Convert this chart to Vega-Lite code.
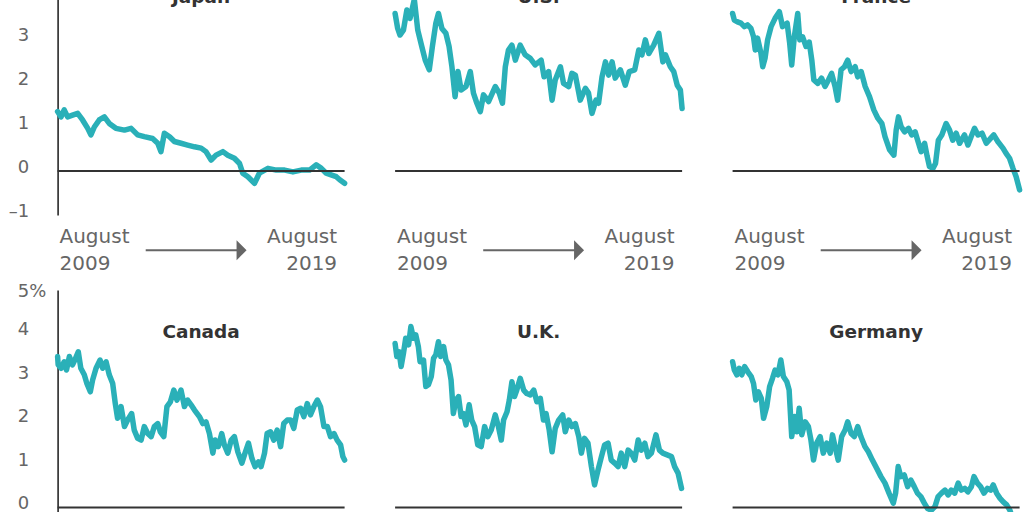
{
  "$schema": "https://vega.github.io/schema/vega-lite/v6.json",
  "description": "10-year government bond yields, August 2009 to August 2019, small multiples",
  "padding": {"left": 7.6, "top": -49, "right": 0, "bottom": 0},
  "background": "white",
  "config": {"view": {"stroke": null}},
  "data": {
    "values": [
      {"country": "Japan", "year": 2009.60, "yield": 1.35},
      {"country": "Japan", "year": 2009.72, "yield": 1.23},
      {"country": "Japan", "year": 2009.83, "yield": 1.39},
      {"country": "Japan", "year": 2009.95, "yield": 1.23},
      {"country": "Japan", "year": 2010.12, "yield": 1.27},
      {"country": "Japan", "year": 2010.30, "yield": 1.31},
      {"country": "Japan", "year": 2010.47, "yield": 1.16},
      {"country": "Japan", "year": 2010.65, "yield": 0.97},
      {"country": "Japan", "year": 2010.76, "yield": 0.82},
      {"country": "Japan", "year": 2010.88, "yield": 1.00},
      {"country": "Japan", "year": 2011.05, "yield": 1.16},
      {"country": "Japan", "year": 2011.23, "yield": 1.23},
      {"country": "Japan", "year": 2011.40, "yield": 1.08},
      {"country": "Japan", "year": 2011.63, "yield": 0.97},
      {"country": "Japan", "year": 2011.93, "yield": 0.93},
      {"country": "Japan", "year": 2012.16, "yield": 0.97},
      {"country": "Japan", "year": 2012.39, "yield": 0.82},
      {"country": "Japan", "year": 2012.62, "yield": 0.78},
      {"country": "Japan", "year": 2012.91, "yield": 0.74},
      {"country": "Japan", "year": 2013.09, "yield": 0.63},
      {"country": "Japan", "year": 2013.20, "yield": 0.44},
      {"country": "Japan", "year": 2013.32, "yield": 0.86},
      {"country": "Japan", "year": 2013.50, "yield": 0.78},
      {"country": "Japan", "year": 2013.67, "yield": 0.67},
      {"country": "Japan", "year": 2013.90, "yield": 0.63},
      {"country": "Japan", "year": 2014.13, "yield": 0.59},
      {"country": "Japan", "year": 2014.37, "yield": 0.55},
      {"country": "Japan", "year": 2014.60, "yield": 0.52},
      {"country": "Japan", "year": 2014.77, "yield": 0.44},
      {"country": "Japan", "year": 2014.95, "yield": 0.25},
      {"country": "Japan", "year": 2015.12, "yield": 0.36},
      {"country": "Japan", "year": 2015.36, "yield": 0.44},
      {"country": "Japan", "year": 2015.53, "yield": 0.36},
      {"country": "Japan", "year": 2015.76, "yield": 0.29},
      {"country": "Japan", "year": 2015.94, "yield": 0.17},
      {"country": "Japan", "year": 2016.05, "yield": -0.05},
      {"country": "Japan", "year": 2016.23, "yield": -0.13},
      {"country": "Japan", "year": 2016.46, "yield": -0.28},
      {"country": "Japan", "year": 2016.63, "yield": -0.05},
      {"country": "Japan", "year": 2016.93, "yield": 0.06},
      {"country": "Japan", "year": 2017.22, "yield": 0.02},
      {"country": "Japan", "year": 2017.51, "yield": 0.02},
      {"country": "Japan", "year": 2017.80, "yield": -0.02},
      {"country": "Japan", "year": 2018.09, "yield": 0.02},
      {"country": "Japan", "year": 2018.38, "yield": 0.02},
      {"country": "Japan", "year": 2018.61, "yield": 0.14},
      {"country": "Japan", "year": 2018.79, "yield": 0.06},
      {"country": "Japan", "year": 2018.96, "yield": -0.05},
      {"country": "Japan", "year": 2019.13, "yield": -0.09},
      {"country": "Japan", "year": 2019.31, "yield": -0.13},
      {"country": "Japan", "year": 2019.43, "yield": -0.20},
      {"country": "Japan", "year": 2019.60, "yield": -0.28},

      {"country": "U.S.", "year": 2009.60, "yield": 3.58},
      {"country": "U.S.", "year": 2009.69, "yield": 3.24},
      {"country": "U.S.", "year": 2009.77, "yield": 3.09},
      {"country": "U.S.", "year": 2009.89, "yield": 3.20},
      {"country": "U.S.", "year": 2010.01, "yield": 3.66},
      {"country": "U.S.", "year": 2010.12, "yield": 3.47},
      {"country": "U.S.", "year": 2010.27, "yield": 3.90},
      {"country": "U.S.", "year": 2010.39, "yield": 3.20},
      {"country": "U.S.", "year": 2010.53, "yield": 2.83},
      {"country": "U.S.", "year": 2010.65, "yield": 2.52},
      {"country": "U.S.", "year": 2010.79, "yield": 2.30},
      {"country": "U.S.", "year": 2010.90, "yield": 2.83},
      {"country": "U.S.", "year": 2011.02, "yield": 3.36},
      {"country": "U.S.", "year": 2011.11, "yield": 3.58},
      {"country": "U.S.", "year": 2011.23, "yield": 3.24},
      {"country": "U.S.", "year": 2011.37, "yield": 3.13},
      {"country": "U.S.", "year": 2011.48, "yield": 2.83},
      {"country": "U.S.", "year": 2011.58, "yield": 2.37},
      {"country": "U.S.", "year": 2011.69, "yield": 1.69},
      {"country": "U.S.", "year": 2011.79, "yield": 2.26},
      {"country": "U.S.", "year": 2011.90, "yield": 1.84},
      {"country": "U.S.", "year": 2012.07, "yield": 1.92},
      {"country": "U.S.", "year": 2012.22, "yield": 2.26},
      {"country": "U.S.", "year": 2012.33, "yield": 1.77},
      {"country": "U.S.", "year": 2012.45, "yield": 1.54},
      {"country": "U.S.", "year": 2012.57, "yield": 1.35},
      {"country": "U.S.", "year": 2012.68, "yield": 1.73},
      {"country": "U.S.", "year": 2012.86, "yield": 1.58},
      {"country": "U.S.", "year": 2013.09, "yield": 1.92},
      {"country": "U.S.", "year": 2013.23, "yield": 1.77},
      {"country": "U.S.", "year": 2013.34, "yield": 1.54},
      {"country": "U.S.", "year": 2013.44, "yield": 2.37},
      {"country": "U.S.", "year": 2013.55, "yield": 2.75},
      {"country": "U.S.", "year": 2013.67, "yield": 2.86},
      {"country": "U.S.", "year": 2013.79, "yield": 2.52},
      {"country": "U.S.", "year": 2013.96, "yield": 2.86},
      {"country": "U.S.", "year": 2014.13, "yield": 2.64},
      {"country": "U.S.", "year": 2014.31, "yield": 2.56},
      {"country": "U.S.", "year": 2014.48, "yield": 2.41},
      {"country": "U.S.", "year": 2014.69, "yield": 2.52},
      {"country": "U.S.", "year": 2014.79, "yield": 2.14},
      {"country": "U.S.", "year": 2014.95, "yield": 2.26},
      {"country": "U.S.", "year": 2015.07, "yield": 1.61},
      {"country": "U.S.", "year": 2015.18, "yield": 2.07},
      {"country": "U.S.", "year": 2015.36, "yield": 2.37},
      {"country": "U.S.", "year": 2015.47, "yield": 1.99},
      {"country": "U.S.", "year": 2015.65, "yield": 1.92},
      {"country": "U.S.", "year": 2015.76, "yield": 2.22},
      {"country": "U.S.", "year": 2015.88, "yield": 2.18},
      {"country": "U.S.", "year": 2016.05, "yield": 1.61},
      {"country": "U.S.", "year": 2016.23, "yield": 1.88},
      {"country": "U.S.", "year": 2016.34, "yield": 1.77},
      {"country": "U.S.", "year": 2016.46, "yield": 1.31},
      {"country": "U.S.", "year": 2016.60, "yield": 1.61},
      {"country": "U.S.", "year": 2016.69, "yield": 1.54},
      {"country": "U.S.", "year": 2016.81, "yield": 2.14},
      {"country": "U.S.", "year": 2016.93, "yield": 2.48},
      {"country": "U.S.", "year": 2017.04, "yield": 2.18},
      {"country": "U.S.", "year": 2017.16, "yield": 2.48},
      {"country": "U.S.", "year": 2017.27, "yield": 2.11},
      {"country": "U.S.", "year": 2017.45, "yield": 2.30},
      {"country": "U.S.", "year": 2017.62, "yield": 1.95},
      {"country": "U.S.", "year": 2017.76, "yield": 2.26},
      {"country": "U.S.", "year": 2017.95, "yield": 2.30},
      {"country": "U.S.", "year": 2018.09, "yield": 2.75},
      {"country": "U.S.", "year": 2018.20, "yield": 2.64},
      {"country": "U.S.", "year": 2018.32, "yield": 2.98},
      {"country": "U.S.", "year": 2018.44, "yield": 2.67},
      {"country": "U.S.", "year": 2018.61, "yield": 2.86},
      {"country": "U.S.", "year": 2018.79, "yield": 3.13},
      {"country": "U.S.", "year": 2018.93, "yield": 2.48},
      {"country": "U.S.", "year": 2019.02, "yield": 2.64},
      {"country": "U.S.", "year": 2019.19, "yield": 2.37},
      {"country": "U.S.", "year": 2019.31, "yield": 2.26},
      {"country": "U.S.", "year": 2019.43, "yield": 1.95},
      {"country": "U.S.", "year": 2019.54, "yield": 1.84},
      {"country": "U.S.", "year": 2019.60, "yield": 1.42},

      {"country": "France", "year": 2009.60, "yield": 3.58},
      {"country": "France", "year": 2009.66, "yield": 3.43},
      {"country": "France", "year": 2009.77, "yield": 3.39},
      {"country": "France", "year": 2009.89, "yield": 3.36},
      {"country": "France", "year": 2010.01, "yield": 3.28},
      {"country": "France", "year": 2010.12, "yield": 3.32},
      {"country": "France", "year": 2010.24, "yield": 3.24},
      {"country": "France", "year": 2010.33, "yield": 3.05},
      {"country": "France", "year": 2010.39, "yield": 2.75},
      {"country": "France", "year": 2010.47, "yield": 3.02},
      {"country": "France", "year": 2010.59, "yield": 2.67},
      {"country": "France", "year": 2010.65, "yield": 2.37},
      {"country": "France", "year": 2010.73, "yield": 2.56},
      {"country": "France", "year": 2010.82, "yield": 2.98},
      {"country": "France", "year": 2010.94, "yield": 3.28},
      {"country": "France", "year": 2011.08, "yield": 3.47},
      {"country": "France", "year": 2011.23, "yield": 3.62},
      {"country": "France", "year": 2011.34, "yield": 3.28},
      {"country": "France", "year": 2011.50, "yield": 3.36},
      {"country": "France", "year": 2011.59, "yield": 2.90},
      {"country": "France", "year": 2011.66, "yield": 2.41},
      {"country": "France", "year": 2011.75, "yield": 3.05},
      {"country": "France", "year": 2011.87, "yield": 3.58},
      {"country": "France", "year": 2011.94, "yield": 2.98},
      {"country": "France", "year": 2012.04, "yield": 3.05},
      {"country": "France", "year": 2012.16, "yield": 2.83},
      {"country": "France", "year": 2012.27, "yield": 2.93},
      {"country": "France", "year": 2012.36, "yield": 2.52},
      {"country": "France", "year": 2012.43, "yield": 2.07},
      {"country": "France", "year": 2012.57, "yield": 1.99},
      {"country": "France", "year": 2012.70, "yield": 2.11},
      {"country": "France", "year": 2012.82, "yield": 1.92},
      {"country": "France", "year": 2012.94, "yield": 2.07},
      {"country": "France", "year": 2013.05, "yield": 2.22},
      {"country": "France", "year": 2013.17, "yield": 1.92},
      {"country": "France", "year": 2013.26, "yield": 1.61},
      {"country": "France", "year": 2013.38, "yield": 2.30},
      {"country": "France", "year": 2013.50, "yield": 2.37},
      {"country": "France", "year": 2013.61, "yield": 2.52},
      {"country": "France", "year": 2013.73, "yield": 2.26},
      {"country": "France", "year": 2013.87, "yield": 2.37},
      {"country": "France", "year": 2013.96, "yield": 2.14},
      {"country": "France", "year": 2014.08, "yield": 2.26},
      {"country": "France", "year": 2014.22, "yield": 1.92},
      {"country": "France", "year": 2014.37, "yield": 1.69},
      {"country": "France", "year": 2014.52, "yield": 1.39},
      {"country": "France", "year": 2014.66, "yield": 1.20},
      {"country": "France", "year": 2014.80, "yield": 1.08},
      {"country": "France", "year": 2014.91, "yield": 0.78},
      {"country": "France", "year": 2015.07, "yield": 0.48},
      {"country": "France", "year": 2015.22, "yield": 0.36},
      {"country": "France", "year": 2015.30, "yield": 0.93},
      {"country": "France", "year": 2015.38, "yield": 1.23},
      {"country": "France", "year": 2015.47, "yield": 1.01},
      {"country": "France", "year": 2015.59, "yield": 0.89},
      {"country": "France", "year": 2015.73, "yield": 0.97},
      {"country": "France", "year": 2015.84, "yield": 0.82},
      {"country": "France", "year": 2015.96, "yield": 0.89},
      {"country": "France", "year": 2016.08, "yield": 0.63},
      {"country": "France", "year": 2016.17, "yield": 0.44},
      {"country": "France", "year": 2016.29, "yield": 0.63},
      {"country": "France", "year": 2016.38, "yield": 0.33},
      {"country": "France", "year": 2016.46, "yield": 0.10},
      {"country": "France", "year": 2016.58, "yield": 0.06},
      {"country": "France", "year": 2016.67, "yield": 0.17},
      {"country": "France", "year": 2016.77, "yield": 0.70},
      {"country": "France", "year": 2016.89, "yield": 0.82},
      {"country": "France", "year": 2017.04, "yield": 1.08},
      {"country": "France", "year": 2017.16, "yield": 0.93},
      {"country": "France", "year": 2017.27, "yield": 0.70},
      {"country": "France", "year": 2017.39, "yield": 0.86},
      {"country": "France", "year": 2017.51, "yield": 0.63},
      {"country": "France", "year": 2017.68, "yield": 0.82},
      {"country": "France", "year": 2017.80, "yield": 0.59},
      {"country": "France", "year": 2017.91, "yield": 0.78},
      {"country": "France", "year": 2018.03, "yield": 0.97},
      {"country": "France", "year": 2018.15, "yield": 0.82},
      {"country": "France", "year": 2018.29, "yield": 0.86},
      {"country": "France", "year": 2018.44, "yield": 0.63},
      {"country": "France", "year": 2018.59, "yield": 0.74},
      {"country": "France", "year": 2018.70, "yield": 0.82},
      {"country": "France", "year": 2018.84, "yield": 0.67},
      {"country": "France", "year": 2019.02, "yield": 0.52},
      {"country": "France", "year": 2019.13, "yield": 0.40},
      {"country": "France", "year": 2019.25, "yield": 0.29},
      {"country": "France", "year": 2019.37, "yield": 0.06},
      {"country": "France", "year": 2019.48, "yield": -0.13},
      {"country": "France", "year": 2019.60, "yield": -0.43},

      {"country": "Canada", "year": 2009.60, "yield": 3.47},
      {"country": "Canada", "year": 2009.62, "yield": 3.28},
      {"country": "Canada", "year": 2009.72, "yield": 3.20},
      {"country": "Canada", "year": 2009.83, "yield": 3.35},
      {"country": "Canada", "year": 2009.91, "yield": 3.16},
      {"country": "Canada", "year": 2010.01, "yield": 3.47},
      {"country": "Canada", "year": 2010.12, "yield": 3.28},
      {"country": "Canada", "year": 2010.20, "yield": 3.39},
      {"country": "Canada", "year": 2010.32, "yield": 3.58},
      {"country": "Canada", "year": 2010.41, "yield": 3.20},
      {"country": "Canada", "year": 2010.53, "yield": 3.05},
      {"country": "Canada", "year": 2010.62, "yield": 2.85},
      {"country": "Canada", "year": 2010.74, "yield": 2.66},
      {"country": "Canada", "year": 2010.82, "yield": 2.93},
      {"country": "Canada", "year": 2010.94, "yield": 3.20},
      {"country": "Canada", "year": 2011.08, "yield": 3.39},
      {"country": "Canada", "year": 2011.17, "yield": 3.20},
      {"country": "Canada", "year": 2011.29, "yield": 3.35},
      {"country": "Canada", "year": 2011.40, "yield": 3.05},
      {"country": "Canada", "year": 2011.52, "yield": 2.85},
      {"country": "Canada", "year": 2011.61, "yield": 2.39},
      {"country": "Canada", "year": 2011.69, "yield": 2.05},
      {"country": "Canada", "year": 2011.81, "yield": 2.32},
      {"country": "Canada", "year": 2011.93, "yield": 1.86},
      {"country": "Canada", "year": 2012.04, "yield": 2.01},
      {"country": "Canada", "year": 2012.18, "yield": 2.16},
      {"country": "Canada", "year": 2012.27, "yield": 1.78},
      {"country": "Canada", "year": 2012.39, "yield": 1.59},
      {"country": "Canada", "year": 2012.51, "yield": 1.55},
      {"country": "Canada", "year": 2012.62, "yield": 1.86},
      {"country": "Canada", "year": 2012.74, "yield": 1.70},
      {"country": "Canada", "year": 2012.86, "yield": 1.63},
      {"country": "Canada", "year": 2012.97, "yield": 1.86},
      {"country": "Canada", "year": 2013.09, "yield": 1.93},
      {"country": "Canada", "year": 2013.18, "yield": 1.74},
      {"country": "Canada", "year": 2013.30, "yield": 1.63},
      {"country": "Canada", "year": 2013.41, "yield": 2.32},
      {"country": "Canada", "year": 2013.53, "yield": 2.43},
      {"country": "Canada", "year": 2013.65, "yield": 2.70},
      {"country": "Canada", "year": 2013.76, "yield": 2.47},
      {"country": "Canada", "year": 2013.90, "yield": 2.70},
      {"country": "Canada", "year": 2014.02, "yield": 2.32},
      {"country": "Canada", "year": 2014.13, "yield": 2.47},
      {"country": "Canada", "year": 2014.25, "yield": 2.36},
      {"country": "Canada", "year": 2014.37, "yield": 2.24},
      {"country": "Canada", "year": 2014.54, "yield": 2.09},
      {"country": "Canada", "year": 2014.66, "yield": 1.93},
      {"country": "Canada", "year": 2014.77, "yield": 1.97},
      {"country": "Canada", "year": 2014.89, "yield": 1.70},
      {"country": "Canada", "year": 2015.01, "yield": 1.25},
      {"country": "Canada", "year": 2015.09, "yield": 1.55},
      {"country": "Canada", "year": 2015.20, "yield": 1.40},
      {"country": "Canada", "year": 2015.32, "yield": 1.70},
      {"country": "Canada", "year": 2015.41, "yield": 1.44},
      {"country": "Canada", "year": 2015.53, "yield": 1.25},
      {"country": "Canada", "year": 2015.65, "yield": 1.55},
      {"country": "Canada", "year": 2015.76, "yield": 1.63},
      {"country": "Canada", "year": 2015.88, "yield": 1.28},
      {"country": "Canada", "year": 2016.02, "yield": 1.02},
      {"country": "Canada", "year": 2016.13, "yield": 1.25},
      {"country": "Canada", "year": 2016.25, "yield": 1.48},
      {"country": "Canada", "year": 2016.37, "yield": 1.13},
      {"country": "Canada", "year": 2016.48, "yield": 0.94},
      {"country": "Canada", "year": 2016.60, "yield": 1.05},
      {"country": "Canada", "year": 2016.69, "yield": 0.94},
      {"country": "Canada", "year": 2016.81, "yield": 1.25},
      {"country": "Canada", "year": 2016.90, "yield": 1.70},
      {"country": "Canada", "year": 2017.02, "yield": 1.74},
      {"country": "Canada", "year": 2017.13, "yield": 1.55},
      {"country": "Canada", "year": 2017.25, "yield": 1.78},
      {"country": "Canada", "year": 2017.37, "yield": 1.40},
      {"country": "Canada", "year": 2017.48, "yield": 1.93},
      {"country": "Canada", "year": 2017.60, "yield": 2.01},
      {"country": "Canada", "year": 2017.72, "yield": 2.01},
      {"country": "Canada", "year": 2017.83, "yield": 1.82},
      {"country": "Canada", "year": 2017.95, "yield": 2.24},
      {"country": "Canada", "year": 2018.07, "yield": 2.28},
      {"country": "Canada", "year": 2018.18, "yield": 2.09},
      {"country": "Canada", "year": 2018.30, "yield": 2.39},
      {"country": "Canada", "year": 2018.41, "yield": 2.13},
      {"country": "Canada", "year": 2018.53, "yield": 2.32},
      {"country": "Canada", "year": 2018.65, "yield": 2.47},
      {"country": "Canada", "year": 2018.76, "yield": 2.32},
      {"country": "Canada", "year": 2018.88, "yield": 1.86},
      {"country": "Canada", "year": 2019.00, "yield": 1.86},
      {"country": "Canada", "year": 2019.11, "yield": 1.63},
      {"country": "Canada", "year": 2019.23, "yield": 1.70},
      {"country": "Canada", "year": 2019.34, "yield": 1.55},
      {"country": "Canada", "year": 2019.46, "yield": 1.44},
      {"country": "Canada", "year": 2019.54, "yield": 1.17},
      {"country": "Canada", "year": 2019.60, "yield": 1.09},

      {"country": "U.K.", "year": 2009.60, "yield": 3.77},
      {"country": "U.K.", "year": 2009.66, "yield": 3.47},
      {"country": "U.K.", "year": 2009.74, "yield": 3.58},
      {"country": "U.K.", "year": 2009.81, "yield": 3.24},
      {"country": "U.K.", "year": 2009.89, "yield": 3.54},
      {"country": "U.K.", "year": 2009.97, "yield": 3.89},
      {"country": "U.K.", "year": 2010.07, "yield": 3.74},
      {"country": "U.K.", "year": 2010.15, "yield": 4.16},
      {"country": "U.K.", "year": 2010.24, "yield": 3.89},
      {"country": "U.K.", "year": 2010.32, "yield": 3.97},
      {"country": "U.K.", "year": 2010.41, "yield": 3.70},
      {"country": "U.K.", "year": 2010.47, "yield": 3.35},
      {"country": "U.K.", "year": 2010.59, "yield": 3.39},
      {"country": "U.K.", "year": 2010.67, "yield": 2.78},
      {"country": "U.K.", "year": 2010.76, "yield": 2.82},
      {"country": "U.K.", "year": 2010.86, "yield": 3.01},
      {"country": "U.K.", "year": 2010.94, "yield": 3.43},
      {"country": "U.K.", "year": 2011.02, "yield": 3.51},
      {"country": "U.K.", "year": 2011.11, "yield": 3.81},
      {"country": "U.K.", "year": 2011.19, "yield": 3.47},
      {"country": "U.K.", "year": 2011.29, "yield": 3.70},
      {"country": "U.K.", "year": 2011.37, "yield": 3.39},
      {"country": "U.K.", "year": 2011.46, "yield": 3.28},
      {"country": "U.K.", "year": 2011.55, "yield": 2.93},
      {"country": "U.K.", "year": 2011.63, "yield": 2.16},
      {"country": "U.K.", "year": 2011.72, "yield": 2.47},
      {"country": "U.K.", "year": 2011.81, "yield": 2.55},
      {"country": "U.K.", "year": 2011.90, "yield": 2.09},
      {"country": "U.K.", "year": 2011.98, "yield": 2.16},
      {"country": "U.K.", "year": 2012.07, "yield": 1.90},
      {"country": "U.K.", "year": 2012.18, "yield": 2.36},
      {"country": "U.K.", "year": 2012.27, "yield": 2.01},
      {"country": "U.K.", "year": 2012.37, "yield": 1.86},
      {"country": "U.K.", "year": 2012.48, "yield": 1.44},
      {"country": "U.K.", "year": 2012.60, "yield": 1.40},
      {"country": "U.K.", "year": 2012.72, "yield": 1.86},
      {"country": "U.K.", "year": 2012.83, "yield": 1.63},
      {"country": "U.K.", "year": 2012.95, "yield": 1.78},
      {"country": "U.K.", "year": 2013.09, "yield": 2.13},
      {"country": "U.K.", "year": 2013.20, "yield": 1.86},
      {"country": "U.K.", "year": 2013.30, "yield": 1.55},
      {"country": "U.K.", "year": 2013.38, "yield": 2.01},
      {"country": "U.K.", "year": 2013.50, "yield": 2.20},
      {"country": "U.K.", "year": 2013.58, "yield": 2.47},
      {"country": "U.K.", "year": 2013.67, "yield": 2.89},
      {"country": "U.K.", "year": 2013.76, "yield": 2.55},
      {"country": "U.K.", "year": 2013.84, "yield": 2.70},
      {"country": "U.K.", "year": 2013.96, "yield": 2.97},
      {"country": "U.K.", "year": 2014.08, "yield": 2.70},
      {"country": "U.K.", "year": 2014.19, "yield": 2.62},
      {"country": "U.K.", "year": 2014.31, "yield": 2.59},
      {"country": "U.K.", "year": 2014.43, "yield": 2.70},
      {"country": "U.K.", "year": 2014.54, "yield": 2.43},
      {"country": "U.K.", "year": 2014.66, "yield": 2.51},
      {"country": "U.K.", "year": 2014.77, "yield": 2.01},
      {"country": "U.K.", "year": 2014.86, "yield": 2.16},
      {"country": "U.K.", "year": 2014.97, "yield": 1.78},
      {"country": "U.K.", "year": 2015.07, "yield": 1.28},
      {"country": "U.K.", "year": 2015.18, "yield": 1.82},
      {"country": "U.K.", "year": 2015.30, "yield": 2.01},
      {"country": "U.K.", "year": 2015.44, "yield": 2.13},
      {"country": "U.K.", "year": 2015.53, "yield": 1.74},
      {"country": "U.K.", "year": 2015.65, "yield": 2.01},
      {"country": "U.K.", "year": 2015.76, "yield": 1.86},
      {"country": "U.K.", "year": 2015.88, "yield": 1.93},
      {"country": "U.K.", "year": 2016.00, "yield": 1.63},
      {"country": "U.K.", "year": 2016.09, "yield": 1.25},
      {"country": "U.K.", "year": 2016.20, "yield": 1.59},
      {"country": "U.K.", "year": 2016.32, "yield": 1.48},
      {"country": "U.K.", "year": 2016.44, "yield": 0.94},
      {"country": "U.K.", "year": 2016.55, "yield": 0.52},
      {"country": "U.K.", "year": 2016.67, "yield": 0.86},
      {"country": "U.K.", "year": 2016.79, "yield": 1.17},
      {"country": "U.K.", "year": 2016.90, "yield": 1.44},
      {"country": "U.K.", "year": 2017.02, "yield": 1.48},
      {"country": "U.K.", "year": 2017.13, "yield": 1.09},
      {"country": "U.K.", "year": 2017.25, "yield": 1.02},
      {"country": "U.K.", "year": 2017.37, "yield": 0.94},
      {"country": "U.K.", "year": 2017.48, "yield": 1.25},
      {"country": "U.K.", "year": 2017.60, "yield": 0.94},
      {"country": "U.K.", "year": 2017.72, "yield": 1.32},
      {"country": "U.K.", "year": 2017.83, "yield": 1.25},
      {"country": "U.K.", "year": 2017.95, "yield": 1.09},
      {"country": "U.K.", "year": 2018.07, "yield": 1.55},
      {"country": "U.K.", "year": 2018.18, "yield": 1.32},
      {"country": "U.K.", "year": 2018.30, "yield": 1.48},
      {"country": "U.K.", "year": 2018.41, "yield": 1.17},
      {"country": "U.K.", "year": 2018.53, "yield": 1.25},
      {"country": "U.K.", "year": 2018.69, "yield": 1.67},
      {"country": "U.K.", "year": 2018.81, "yield": 1.32},
      {"country": "U.K.", "year": 2018.93, "yield": 1.25},
      {"country": "U.K.", "year": 2019.08, "yield": 1.21},
      {"country": "U.K.", "year": 2019.23, "yield": 1.17},
      {"country": "U.K.", "year": 2019.34, "yield": 0.94},
      {"country": "U.K.", "year": 2019.46, "yield": 0.79},
      {"country": "U.K.", "year": 2019.58, "yield": 0.44},

      {"country": "Germany", "year": 2009.60, "yield": 3.35},
      {"country": "Germany", "year": 2009.66, "yield": 3.16},
      {"country": "Germany", "year": 2009.75, "yield": 3.05},
      {"country": "Germany", "year": 2009.83, "yield": 3.20},
      {"country": "Germany", "year": 2009.92, "yield": 3.05},
      {"country": "Germany", "year": 2010.02, "yield": 3.24},
      {"country": "Germany", "year": 2010.13, "yield": 3.12},
      {"country": "Germany", "year": 2010.25, "yield": 3.01},
      {"country": "Germany", "year": 2010.33, "yield": 2.85},
      {"country": "Germany", "year": 2010.41, "yield": 2.47},
      {"country": "Germany", "year": 2010.50, "yield": 2.66},
      {"country": "Germany", "year": 2010.60, "yield": 2.51},
      {"country": "Germany", "year": 2010.68, "yield": 2.05},
      {"country": "Germany", "year": 2010.79, "yield": 2.32},
      {"country": "Germany", "year": 2010.89, "yield": 2.78},
      {"country": "Germany", "year": 2010.99, "yield": 2.97},
      {"country": "Germany", "year": 2011.08, "yield": 3.16},
      {"country": "Germany", "year": 2011.18, "yield": 3.05},
      {"country": "Germany", "year": 2011.28, "yield": 3.39},
      {"country": "Germany", "year": 2011.37, "yield": 3.01},
      {"country": "Germany", "year": 2011.49, "yield": 2.89},
      {"country": "Germany", "year": 2011.57, "yield": 2.70},
      {"country": "Germany", "year": 2011.66, "yield": 1.63},
      {"country": "Germany", "year": 2011.76, "yield": 2.09},
      {"country": "Germany", "year": 2011.84, "yield": 1.74},
      {"country": "Germany", "year": 2011.92, "yield": 2.28},
      {"country": "Germany", "year": 2012.01, "yield": 1.67},
      {"country": "Germany", "year": 2012.13, "yield": 1.97},
      {"country": "Germany", "year": 2012.24, "yield": 1.86},
      {"country": "Germany", "year": 2012.33, "yield": 1.55},
      {"country": "Germany", "year": 2012.42, "yield": 1.09},
      {"country": "Germany", "year": 2012.53, "yield": 1.48},
      {"country": "Germany", "year": 2012.65, "yield": 1.63},
      {"country": "Germany", "year": 2012.76, "yield": 1.25},
      {"country": "Germany", "year": 2012.88, "yield": 1.48},
      {"country": "Germany", "year": 2013.00, "yield": 1.25},
      {"country": "Germany", "year": 2013.08, "yield": 1.67},
      {"country": "Germany", "year": 2013.17, "yield": 1.40},
      {"country": "Germany", "year": 2013.28, "yield": 1.09},
      {"country": "Germany", "year": 2013.40, "yield": 1.63},
      {"country": "Germany", "year": 2013.52, "yield": 1.78},
      {"country": "Germany", "year": 2013.61, "yield": 1.97},
      {"country": "Germany", "year": 2013.73, "yield": 1.70},
      {"country": "Germany", "year": 2013.84, "yield": 1.63},
      {"country": "Germany", "year": 2013.96, "yield": 1.86},
      {"country": "Germany", "year": 2014.07, "yield": 1.63},
      {"country": "Germany", "year": 2014.21, "yield": 1.40},
      {"country": "Germany", "year": 2014.33, "yield": 1.28},
      {"country": "Germany", "year": 2014.47, "yield": 1.09},
      {"country": "Germany", "year": 2014.62, "yield": 0.90},
      {"country": "Germany", "year": 2014.77, "yield": 0.71},
      {"country": "Germany", "year": 2014.91, "yield": 0.56},
      {"country": "Germany", "year": 2015.05, "yield": 0.33},
      {"country": "Germany", "year": 2015.20, "yield": 0.10},
      {"country": "Germany", "year": 2015.28, "yield": 0.33},
      {"country": "Germany", "year": 2015.37, "yield": 0.94},
      {"country": "Germany", "year": 2015.46, "yield": 0.71},
      {"country": "Germany", "year": 2015.58, "yield": 0.75},
      {"country": "Germany", "year": 2015.70, "yield": 0.48},
      {"country": "Germany", "year": 2015.81, "yield": 0.63},
      {"country": "Germany", "year": 2015.93, "yield": 0.48},
      {"country": "Germany", "year": 2016.04, "yield": 0.33},
      {"country": "Germany", "year": 2016.16, "yield": 0.25},
      {"country": "Germany", "year": 2016.28, "yield": 0.10},
      {"country": "Germany", "year": 2016.39, "yield": -0.02},
      {"country": "Germany", "year": 2016.53, "yield": -0.06},
      {"country": "Germany", "year": 2016.65, "yield": 0.02},
      {"country": "Germany", "year": 2016.76, "yield": 0.25},
      {"country": "Germany", "year": 2016.88, "yield": 0.33},
      {"country": "Germany", "year": 2017.00, "yield": 0.40},
      {"country": "Germany", "year": 2017.11, "yield": 0.29},
      {"country": "Germany", "year": 2017.22, "yield": 0.40},
      {"country": "Germany", "year": 2017.34, "yield": 0.33},
      {"country": "Germany", "year": 2017.46, "yield": 0.56},
      {"country": "Germany", "year": 2017.57, "yield": 0.40},
      {"country": "Germany", "year": 2017.69, "yield": 0.44},
      {"country": "Germany", "year": 2017.80, "yield": 0.36},
      {"country": "Germany", "year": 2017.92, "yield": 0.48},
      {"country": "Germany", "year": 2018.01, "yield": 0.71},
      {"country": "Germany", "year": 2018.13, "yield": 0.56},
      {"country": "Germany", "year": 2018.24, "yield": 0.48},
      {"country": "Germany", "year": 2018.36, "yield": 0.33},
      {"country": "Germany", "year": 2018.48, "yield": 0.44},
      {"country": "Germany", "year": 2018.59, "yield": 0.40},
      {"country": "Germany", "year": 2018.68, "yield": 0.52},
      {"country": "Germany", "year": 2018.80, "yield": 0.33},
      {"country": "Germany", "year": 2018.92, "yield": 0.21},
      {"country": "Germany", "year": 2019.03, "yield": 0.13},
      {"country": "Germany", "year": 2019.15, "yield": 0.06},
      {"country": "Germany", "year": 2019.26, "yield": -0.06},
      {"country": "Germany", "year": 2019.38, "yield": -0.29},
      {"country": "Germany", "year": 2019.48, "yield": -0.59},
      {"country": "Germany", "year": 2019.60, "yield": -0.75}
    ]
  },
  "columns": 3,
  "bounds": "flush",
  "spacing": {"row": 75, "column": 50.5},
  "concat": [
    {
      "width": 287, "height": 264,
      "layer": [
        {"transform": [{"filter": "datum.country === 'Japan'"}],
         "mark": {"type": "line", "color": "#2ab0b8", "strokeWidth": 5.5, "strokeJoin": "round", "strokeCap": "round"},
         "encoding": {
           "x": {"field": "year", "type": "quantitative", "scale": {"domain": [2009.6, 2019.6], "nice": false, "zero": false},
                 "axis": {"values": [2009.65, 2019.32], "labelExpr": "datum.value < 2015 ? ['August', '2009'] : ['August', '2019']", "title": null, "grid": false, "ticks": false, "domain": false, "labelFlush": false, "labelAlign": {"condition": {"test": "datum.value < 2015", "value": "left"}, "value": "right"}, "labelFont": "DejaVu Sans", "labelFontSize": 20, "labelColor": "#666666", "labelLineHeight": 27, "labelPadding": 11.5, "labelBaseline": "top", "labelOverlap": false}},
           "y": {"field": "yield", "type": "quantitative", "scale": {"domain": [-1, 5], "nice": false, "zero": false},
                 "axis": {"values": [-1, 0, 1, 2, 3, 4], "labelExpr": "datum.value === 5 ? '5%' : datum.value < 0 ? '–1' : datum.label", "title": null, "grid": false, "ticks": false, "domainColor": "#1a1a1a", "domainWidth": 1.5, "labelFont": "DejaVu Sans", "labelFontSize": 18, "labelColor": "#666666", "labelAlign": {"condition": {"test": "datum.value === 5", "value": "left"}, "value": "right"}, "labelPadding": {"condition": {"test": "datum.value === 5", "value": 40.4}, "value": 29}, "labelBaseline": "alphabetic", "labelOffset": {"condition": {"test": "datum.value === 5", "value": 6.5}, "value": 1.5}, "labelOverlap": false}}
         }},
        {"data": {"values": [{}]}, "mark": {"type": "rule", "color": "#333333", "strokeWidth": 2}, "encoding": {"y": {"datum": 0}}},
        {"data": {"values": [{}]}, "mark": {"type": "text", "font": "DejaVu Sans", "fontSize": 18.5, "fontWeight": "bold", "color": "#333333", "baseline": "alphabetic", "align": "center"},
         "encoding": {"x": {"datum": 2014.6}, "y": {"datum": 3.82}, "text": {"value": "Japan"}}},
        {"data": {"values": [{}]}, "mark": {"type": "rule", "color": "#666666", "strokeWidth": 2},
         "encoding": {"x": {"datum": 2012.67}, "x2": {"datum": 2015.87}, "y": {"datum": -1.8}}},
        {"data": {"values": [{}]}, "mark": {"type": "point", "shape": "M-0.5,-1L0.5,0L-0.5,1Z", "size": 400, "filled": true, "color": "#666666", "opacity": 1, "strokeWidth": 0},
         "encoding": {"x": {"datum": 2016.01}, "y": {"datum": -1.8}}}
      ]
    },
    {
      "width": 287, "height": 264,
      "layer": [
        {"transform": [{"filter": "datum.country === 'U.S.'"}],
         "mark": {"type": "line", "color": "#2ab0b8", "strokeWidth": 5.5, "strokeJoin": "round", "strokeCap": "round"},
         "encoding": {
           "x": {"field": "year", "type": "quantitative", "scale": {"domain": [2009.6, 2019.6], "nice": false, "zero": false},
                 "axis": {"values": [2009.65, 2019.32], "labelExpr": "datum.value < 2015 ? ['August', '2009'] : ['August', '2019']", "title": null, "grid": false, "ticks": false, "domain": false, "labelFlush": false, "labelAlign": {"condition": {"test": "datum.value < 2015", "value": "left"}, "value": "right"}, "labelFont": "DejaVu Sans", "labelFontSize": 20, "labelColor": "#666666", "labelLineHeight": 27, "labelPadding": 11.5, "labelBaseline": "top", "labelOverlap": false}},
           "y": {"field": "yield", "type": "quantitative", "scale": {"domain": [-1, 5], "nice": false, "zero": false}, "axis": null}
         }},
        {"data": {"values": [{}]}, "mark": {"type": "rule", "color": "#333333", "strokeWidth": 2}, "encoding": {"y": {"datum": 0}}},
        {"data": {"values": [{}]}, "mark": {"type": "text", "font": "DejaVu Sans", "fontSize": 18.5, "fontWeight": "bold", "color": "#333333", "baseline": "alphabetic", "align": "center"},
         "encoding": {"x": {"datum": 2014.6}, "y": {"datum": 3.82}, "text": {"value": "U.S."}}},
        {"data": {"values": [{}]}, "mark": {"type": "rule", "color": "#666666", "strokeWidth": 2},
         "encoding": {"x": {"datum": 2012.67}, "x2": {"datum": 2015.87}, "y": {"datum": -1.8}}},
        {"data": {"values": [{}]}, "mark": {"type": "point", "shape": "M-0.5,-1L0.5,0L-0.5,1Z", "size": 400, "filled": true, "color": "#666666", "opacity": 1, "strokeWidth": 0},
         "encoding": {"x": {"datum": 2016.01}, "y": {"datum": -1.8}}}
      ]
    },
    {
      "width": 287, "height": 264,
      "layer": [
        {"transform": [{"filter": "datum.country === 'France'"}],
         "mark": {"type": "line", "color": "#2ab0b8", "strokeWidth": 5.5, "strokeJoin": "round", "strokeCap": "round"},
         "encoding": {
           "x": {"field": "year", "type": "quantitative", "scale": {"domain": [2009.6, 2019.6], "nice": false, "zero": false},
                 "axis": {"values": [2009.65, 2019.32], "labelExpr": "datum.value < 2015 ? ['August', '2009'] : ['August', '2019']", "title": null, "grid": false, "ticks": false, "domain": false, "labelFlush": false, "labelAlign": {"condition": {"test": "datum.value < 2015", "value": "left"}, "value": "right"}, "labelFont": "DejaVu Sans", "labelFontSize": 20, "labelColor": "#666666", "labelLineHeight": 27, "labelPadding": 11.5, "labelBaseline": "top", "labelOverlap": false}},
           "y": {"field": "yield", "type": "quantitative", "scale": {"domain": [-1, 5], "nice": false, "zero": false}, "axis": null}
         }},
        {"data": {"values": [{}]}, "mark": {"type": "rule", "color": "#333333", "strokeWidth": 2}, "encoding": {"y": {"datum": 0}}},
        {"data": {"values": [{}]}, "mark": {"type": "text", "font": "DejaVu Sans", "fontSize": 18.5, "fontWeight": "bold", "color": "#333333", "baseline": "alphabetic", "align": "center"},
         "encoding": {"x": {"datum": 2014.6}, "y": {"datum": 3.82}, "text": {"value": "France"}}},
        {"data": {"values": [{}]}, "mark": {"type": "rule", "color": "#666666", "strokeWidth": 2},
         "encoding": {"x": {"datum": 2012.67}, "x2": {"datum": 2015.87}, "y": {"datum": -1.8}}},
        {"data": {"values": [{}]}, "mark": {"type": "point", "shape": "M-0.5,-1L0.5,0L-0.5,1Z", "size": 400, "filled": true, "color": "#666666", "opacity": 1, "strokeWidth": 0},
         "encoding": {"x": {"datum": 2016.01}, "y": {"datum": -1.8}}}
      ]
    },
    {
      "width": 287, "height": 261,
      "layer": [
        {"transform": [{"filter": "datum.country === 'Canada'"}],
         "mark": {"type": "line", "color": "#2ab0b8", "strokeWidth": 5.5, "strokeJoin": "round", "strokeCap": "round"},
         "encoding": {
           "x": {"field": "year", "type": "quantitative", "scale": {"domain": [2009.6, 2019.6], "nice": false, "zero": false},
                 "axis": {"values": [2009.65, 2019.32], "labelExpr": "datum.value < 2015 ? ['August', '2009'] : ['August', '2019']", "title": null, "grid": false, "ticks": false, "domain": false, "labelFlush": false, "labelAlign": {"condition": {"test": "datum.value < 2015", "value": "left"}, "value": "right"}, "labelFont": "DejaVu Sans", "labelFontSize": 20, "labelColor": "#666666", "labelLineHeight": 27, "labelPadding": 11.5, "labelBaseline": "top", "labelOverlap": false}},
           "y": {"field": "yield", "type": "quantitative", "scale": {"domain": [-1, 5], "nice": false, "zero": false},
                 "axis": {"values": [-1, 0, 1, 2, 3, 4, 5], "labelExpr": "datum.value === 5 ? '5%' : datum.value < 0 ? '–1' : datum.label", "title": null, "grid": false, "ticks": false, "domainColor": "#1a1a1a", "domainWidth": 1.5, "labelFont": "DejaVu Sans", "labelFontSize": 18, "labelColor": "#666666", "labelAlign": {"condition": {"test": "datum.value === 5", "value": "left"}, "value": "right"}, "labelPadding": {"condition": {"test": "datum.value === 5", "value": 40.4}, "value": 29}, "labelBaseline": "alphabetic", "labelOffset": {"condition": {"test": "datum.value === 5", "value": 6.5}, "value": 1.5}, "labelOverlap": false}}
         }},
        {"data": {"values": [{}]}, "mark": {"type": "rule", "color": "#333333", "strokeWidth": 2}, "encoding": {"y": {"datum": 0}}},
        {"data": {"values": [{}]}, "mark": {"type": "text", "font": "DejaVu Sans", "fontSize": 18.5, "fontWeight": "bold", "color": "#333333", "baseline": "alphabetic", "align": "center"},
         "encoding": {"x": {"datum": 2014.6}, "y": {"datum": 3.9}, "text": {"value": "Canada"}}},
        {"data": {"values": [{}]}, "mark": {"type": "rule", "color": "#666666", "strokeWidth": 2},
         "encoding": {"x": {"datum": 2012.67}, "x2": {"datum": 2015.87}, "y": {"datum": -1.8}}},
        {"data": {"values": [{}]}, "mark": {"type": "point", "shape": "M-0.5,-1L0.5,0L-0.5,1Z", "size": 400, "filled": true, "color": "#666666", "opacity": 1, "strokeWidth": 0},
         "encoding": {"x": {"datum": 2016.01}, "y": {"datum": -1.8}}}
      ]
    },
    {
      "width": 287, "height": 261,
      "layer": [
        {"transform": [{"filter": "datum.country === 'U.K.'"}],
         "mark": {"type": "line", "color": "#2ab0b8", "strokeWidth": 5.5, "strokeJoin": "round", "strokeCap": "round"},
         "encoding": {
           "x": {"field": "year", "type": "quantitative", "scale": {"domain": [2009.6, 2019.6], "nice": false, "zero": false},
                 "axis": {"values": [2009.65, 2019.32], "labelExpr": "datum.value < 2015 ? ['August', '2009'] : ['August', '2019']", "title": null, "grid": false, "ticks": false, "domain": false, "labelFlush": false, "labelAlign": {"condition": {"test": "datum.value < 2015", "value": "left"}, "value": "right"}, "labelFont": "DejaVu Sans", "labelFontSize": 20, "labelColor": "#666666", "labelLineHeight": 27, "labelPadding": 11.5, "labelBaseline": "top", "labelOverlap": false}},
           "y": {"field": "yield", "type": "quantitative", "scale": {"domain": [-1, 5], "nice": false, "zero": false}, "axis": null}
         }},
        {"data": {"values": [{}]}, "mark": {"type": "rule", "color": "#333333", "strokeWidth": 2}, "encoding": {"y": {"datum": 0}}},
        {"data": {"values": [{}]}, "mark": {"type": "text", "font": "DejaVu Sans", "fontSize": 18.5, "fontWeight": "bold", "color": "#333333", "baseline": "alphabetic", "align": "center"},
         "encoding": {"x": {"datum": 2014.6}, "y": {"datum": 3.9}, "text": {"value": "U.K."}}},
        {"data": {"values": [{}]}, "mark": {"type": "rule", "color": "#666666", "strokeWidth": 2},
         "encoding": {"x": {"datum": 2012.67}, "x2": {"datum": 2015.87}, "y": {"datum": -1.8}}},
        {"data": {"values": [{}]}, "mark": {"type": "point", "shape": "M-0.5,-1L0.5,0L-0.5,1Z", "size": 400, "filled": true, "color": "#666666", "opacity": 1, "strokeWidth": 0},
         "encoding": {"x": {"datum": 2016.01}, "y": {"datum": -1.8}}}
      ]
    },
    {
      "width": 287, "height": 261,
      "layer": [
        {"transform": [{"filter": "datum.country === 'Germany'"}],
         "mark": {"type": "line", "color": "#2ab0b8", "strokeWidth": 5.5, "strokeJoin": "round", "strokeCap": "round"},
         "encoding": {
           "x": {"field": "year", "type": "quantitative", "scale": {"domain": [2009.6, 2019.6], "nice": false, "zero": false},
                 "axis": {"values": [2009.65, 2019.32], "labelExpr": "datum.value < 2015 ? ['August', '2009'] : ['August', '2019']", "title": null, "grid": false, "ticks": false, "domain": false, "labelFlush": false, "labelAlign": {"condition": {"test": "datum.value < 2015", "value": "left"}, "value": "right"}, "labelFont": "DejaVu Sans", "labelFontSize": 20, "labelColor": "#666666", "labelLineHeight": 27, "labelPadding": 11.5, "labelBaseline": "top", "labelOverlap": false}},
           "y": {"field": "yield", "type": "quantitative", "scale": {"domain": [-1, 5], "nice": false, "zero": false}, "axis": null}
         }},
        {"data": {"values": [{}]}, "mark": {"type": "rule", "color": "#333333", "strokeWidth": 2}, "encoding": {"y": {"datum": 0}}},
        {"data": {"values": [{}]}, "mark": {"type": "text", "font": "DejaVu Sans", "fontSize": 18.5, "fontWeight": "bold", "color": "#333333", "baseline": "alphabetic", "align": "center"},
         "encoding": {"x": {"datum": 2014.6}, "y": {"datum": 3.9}, "text": {"value": "Germany"}}},
        {"data": {"values": [{}]}, "mark": {"type": "rule", "color": "#666666", "strokeWidth": 2},
         "encoding": {"x": {"datum": 2012.67}, "x2": {"datum": 2015.87}, "y": {"datum": -1.8}}},
        {"data": {"values": [{}]}, "mark": {"type": "point", "shape": "M-0.5,-1L0.5,0L-0.5,1Z", "size": 400, "filled": true, "color": "#666666", "opacity": 1, "strokeWidth": 0},
         "encoding": {"x": {"datum": 2016.01}, "y": {"datum": -1.8}}}
      ]
    }
  ]
}
